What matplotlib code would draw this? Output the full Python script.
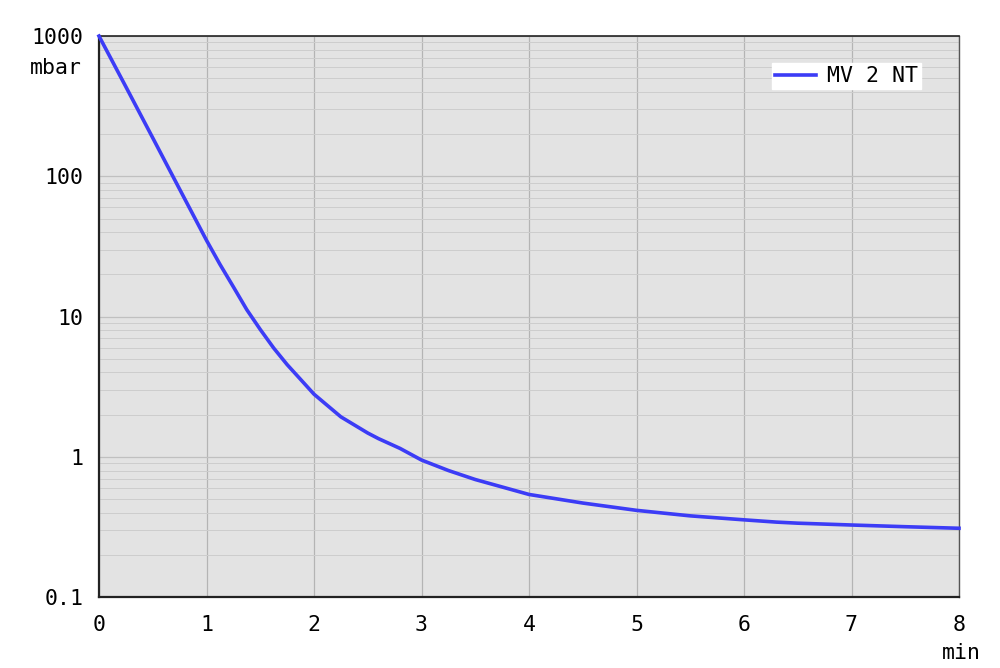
import matplotlib
matplotlib.use("Agg")
import matplotlib.pyplot as plt
from matplotlib.ticker import FixedLocator, NullFormatter

time_min = [0, 0.25, 0.5, 0.75, 1.0, 1.125, 1.25, 1.375, 1.5, 1.625, 1.75, 1.875, 2.0,
            2.25, 2.5, 2.6, 2.8, 3.0, 3.25, 3.5, 4.0, 4.5, 5.0, 5.5, 6.0, 6.3, 6.5,
            7.0, 7.5, 8.0]
pressure_mbar = [1000, 435, 188, 81, 35, 23.6, 16.3, 11.2, 8.1, 5.97, 4.55, 3.57, 2.8,
                 1.93, 1.48, 1.35, 1.15, 0.95, 0.80, 0.69, 0.54, 0.469, 0.416, 0.38, 0.356,
                 0.343, 0.337, 0.327, 0.318, 0.31]
series_label = "MV 2 NT"
x_ticks = [0, 1, 2, 3, 4, 5, 6, 7, 8]
y_ticks = [0.1, 1, 10, 100, 1000]
y_tick_labels = ["0.1", "1", "10", "100", "1000"]

plt.rcParams['font.family'] = ['DejaVu Sans Mono', 'DejaVu Sans']
FS = 15.5

fig = plt.figure(figsize=(10, 6.68), dpi=100)
ax = fig.add_axes([0.099, 0.106, 0.86, 0.84])
ax.set_facecolor('#e3e3e3')
ax.set_yscale('log')
ax.set_xlim(0, 8)
ax.set_ylim(0.1, 1000)

minor = []
for d in [0.1, 1, 10, 100]:
    for k in range(2, 10):
        minor.append(d * k)
ax.yaxis.set_minor_locator(FixedLocator(minor))
ax.yaxis.set_minor_formatter(NullFormatter())
ax.set_yticks(y_ticks)
ax.set_yticklabels(y_tick_labels)
ax.set_xticks(x_ticks)
ax.set_xticklabels([str(t) for t in x_ticks])

ax.grid(which='major', axis='x', color='#b4b4b4', linewidth=0.9)
ax.grid(which='major', axis='y', color='#c0c0c0', linewidth=0.9)
ax.grid(which='minor', axis='y', color='#cdcdcd', linewidth=0.7)
ax.set_axisbelow(True)

ax.tick_params(which='both', length=0, labelsize=FS, colors='black')
ax.tick_params(axis='y', pad=11)
ax.tick_params(axis='x', pad=13)

for s in ['left', 'bottom']:
    ax.spines[s].set_linewidth(1.6)
    ax.spines[s].set_color('#222222')
ax.spines['top'].set_linewidth(1.2)
ax.spines['top'].set_color('#222222')
ax.spines['right'].set_linewidth(1.0)
ax.spines['right'].set_color('#555555')

ax.plot(time_min, pressure_mbar, color='#3c3cf6', linewidth=2.6, label=series_label,
        clip_on=False, zorder=5, solid_joinstyle='round')

leg = ax.legend(loc='upper left', bbox_to_anchor=(0.772, 1 - 63 / 668),
                bbox_transform=fig.transFigure, borderaxespad=0, fontsize=FS,
                frameon=True, fancybox=False, framealpha=1.0, edgecolor='white',
                handlelength=1.9, borderpad=0.15, handletextpad=0.5)

fig.text(0.082, 1 - 68 / 668, "mbar", ha='right', va='center', fontsize=FS)
fig.text(0.961, 1 - 653 / 668, "min", ha='center', va='center', fontsize=FS)

fig.savefig("out.png", dpi=100, facecolor='white')
